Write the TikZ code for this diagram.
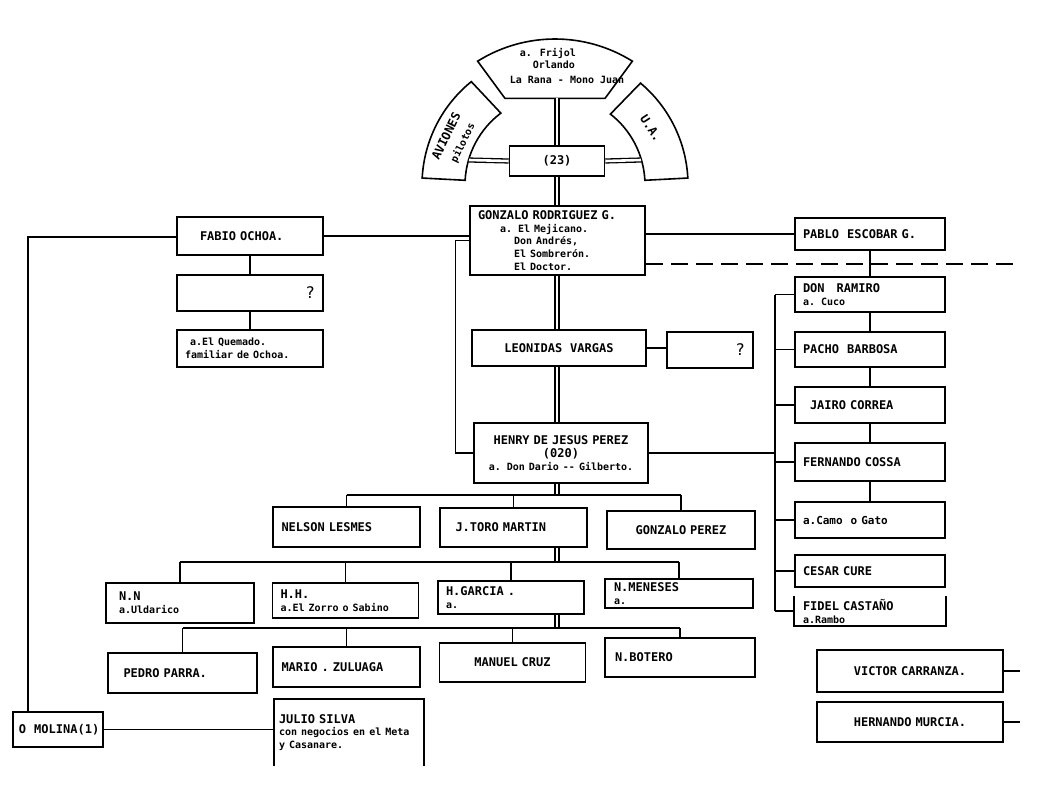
\documentclass[tikz,border=0pt]{standalone}
\usepackage{fontspec}
\newfontfamily\maq{DejaVu Sans Mono}
\usetikzlibrary{calc}
\newcommand\chico{\fontsize{10}{12.5}\selectfont}

\begin{document}
\begin{tikzpicture}[x=1pt,y=-1pt,line width=1.3pt,
  caja/.style={draw,line width=1.6pt,minimum width=146pt,minimum height=37pt,text width=130pt,
    inner xsep=8pt,inner ysep=2pt,align=left,font=\maq\bfseries\fontsize{12}{13}\selectfont},
  doble/.style={double,double distance=2.6pt,line width=1.3pt},
  pieza/.style={draw,line width=1.6pt},
  letra/.style={font=\maq\bfseries\fontsize{12}{13}\selectfont}]
  \fill[white] (0,0) rectangle (1058,793);
  \useasboundingbox (0,0) rectangle (1058,793);
  % cabeza: arcos de arriba
  \coordinate (C) at (555,185);
  \draw[pieza] ($(C)+(238:146)$) arc[start angle=238,end angle=302,radius=146]
    -- ($(C)+(300:100)$) -- ($(C)+(240:100)$) -- cycle;
  \draw[pieza] ($(C)+(183:133)$) arc[start angle=183,end angle=231,radius=133]
    -- ($(C)+(233:90)$) arc[start angle=233,end angle=183,radius=90] -- cycle;
  \draw[pieza] ($(C)+(357:133)$) arc[start angle=357,end angle=310,radius=133]
    -- ($(C)+(308:90)$) arc[start angle=308,end angle=357,radius=90] -- cycle;
  \node[letra,align=left,font=\maq\bfseries\chico] (alias) at (567,66)
    {\hspace*{10pt}a. Frijol\\\hspace*{23pt}Orlando\\[2pt]La Rana - Mono Juan};
  \node[letra,rotate=64] (aviones) at (446,136) {AVIONES};
  \node[letra,rotate=64,font=\maq\bfseries\chico] (pilotos) at (463,143) {pilotos};
  \node[letra,rotate=-57] (ua) at (651,128) {U.A.};
  \coordinate (arriba) at (557,98);
  \coordinate (ai) at (469,160); \coordinate (ad) at (641,160);
  % columna central
  \node[caja,minimum width=95pt,text width=79pt,minimum height=30pt,align=center] (t23) at (557,161) {(23)};
  \node[caja,minimum width=175pt,text width=159pt,minimum height=69pt] (gonzalo) at (557.5,240.5)
    {GONZALO RODRIGUEZ G.\\\chico\hspace*{22pt}a. El Mejicano.\\\hspace*{36pt}Don Andrés,\\\hspace*{36pt}El Sombrerón.\\\hspace*{36pt}El Doctor.};
  \node[caja,minimum width=174pt,text width=158pt,minimum height=36pt,align=center] (lecnidas) at (559,348) {LEONIDAS~ VARGAS};
  \node[caja,minimum width=86pt,text width=70pt,minimum height=36pt,align=right,font=\maq\fontsize{16}{16}\selectfont] (q2) at (710,350) {?};
  \node[caja,minimum width=174pt,text width=158pt,minimum height=60pt,align=center] (henry) at (561,453)
    {HENRY DE JESUS PEREZ\\(020)\\\chico a. Don Dario -{}- Gilberto.};
  % lado izquierdo
  \node[caja,minimum height=38pt] (fabio) at (250,236) {\hspace*{15pt}FABIO OCHOA.};
  \node[caja,minimum height=36pt,align=right,font=\maq\fontsize{16}{16}\selectfont] (q1) at (250,293) {?};
  \node[caja] (quemado) at (250,348.5) {\chico\hspace*{5pt}a.El Quemado.\\familiar de Ochoa.};
  \node[caja,minimum width=90pt,text width=78pt,minimum height=35pt,inner xsep=6pt] (molina) at (58,729.5) {O~ MOLINA(1)};
  % columna derecha
  \node[caja,minimum width=150pt,text width=134pt,minimum height=32pt] (pablo) at (870,234) {PABLO~ ESCOBAR G.};
  \node[caja,minimum width=150pt,text width=134pt,minimum height=35pt] (ramiro) at (870,294.5) {DON~~ RAMIRO\\\chico a. Cuco};
  \node[caja,minimum width=150pt,text width=134pt,minimum height=35pt] (pacho) at (870,349.5) {PACHO~ BARBOSA};
  \node[caja,minimum width=150pt,text width=134pt,minimum height=36pt] (jairo) at (870,405) {\hspace*{7pt}JAIRO CORREA};
  \node[caja,minimum width=150pt,text width=134pt,minimum height=38pt] (fernando) at (870,462) {FERNANDO COSSA};
  \node[caja,minimum width=150pt,text width=134pt,minimum height=36pt] (camo) at (870,520) {\fontsize{11}{12}\selectfont a.Camo~ o Gato};
  \node[caja,minimum width=150pt,text width=134pt,minimum height=32pt] (cesar) at (870,571) {CESAR CURE};
  \node[caja,draw=none,minimum width=150pt,text width=134pt,minimum height=26pt] (fidel) at (870,611) {FIDEL CASTAÑO\\\chico a.Rambo};
  \draw[line width=1.6pt] (fidel.north west) -- (fidel.south west) -- (fidel.south east) -- (fidel.north east);
  \node[caja,minimum width=186pt,text width=170pt,minimum height=42pt,align=center] (victor) at (910,671) {VICTOR CARRANZA.};
  \node[caja,minimum width=186pt,text width=170pt,minimum height=40pt,align=center] (hernando) at (910,722) {HERNANDO MURCIA.};
  % filas de abajo
  \node[caja,minimum width=147pt,minimum height=40pt] (nelson) at (346.5,527) {NELSON LESMES};
  \node[caja,minimum width=147pt,minimum height=39pt] (jtoro) at (513.5,527.5) {\hspace*{7pt}J.TORO MARTIN};
  \node[caja,minimum width=148pt,minimum height=38pt,align=center] (gperez) at (681,530) {GONZALO PEREZ};
  \node[caja,minimum width=148pt,minimum height=40pt] (nn) at (180,603) {\hspace*{4pt}N.N\\\chico\hspace*{4pt}a.Uldarico};
  \node[caja,minimum width=145pt,minimum height=35pt] (hh) at (345.5,600.5) {H.H.\\\chico a.El Zorro o Sabino};
  \node[caja,minimum width=146pt,minimum height=33pt] (hgarcia) at (511,597.5) {H.GARCIA .\\\chico a.};
  \node[caja,minimum width=148pt,minimum height=29pt] (menoses) at (679,593.5) {N.MENESES\\\chico a.};
  \node[caja,minimum width=149pt,minimum height=40pt] (pedro) at (182.5,673) {\hspace*{6pt}PEDRO PARRA.};
  \node[caja,minimum width=147pt,minimum height=40pt] (mario) at (346.5,667) {MARIO . ZULUAGA};
  \node[caja,minimum width=145pt,minimum height=39pt,align=center] (manuel) at (512.5,662.5) {MANUEL CRUZ};
  \node[caja,minimum width=150pt,minimum height=39pt] (botero) at (680,657.5) {N.BOTERO};
  \node[caja,draw=none,minimum width=148pt,text width=140pt,inner xsep=4pt,minimum height=65pt] (julio) at (349,732.5)
    {JULIO SILVA\\\chico con negocios en el Meta\\y Casanare.};
  \draw[line width=1.6pt] (julio.south west) -- (julio.north west) -- (julio.north east) -- (julio.south east);
  % lineas dobles del eje
  \draw[doble] (arriba) -- (t23.north -| arriba);
  \draw[doble] (t23.west) -- (ai);
  \draw[doble] (t23.east) -- (ad);
  \draw[doble] (t23.south -| arriba) -- (gonzalo.north -| arriba);
  \draw[doble] (gonzalo.south -| arriba) -- (lecnidas.north -| arriba);
  \draw[doble] (lecnidas.south -| arriba) -- (henry.north -| arriba);
  \coordinate (b1) at (0,495); \coordinate (b2) at (0,562); \coordinate (b3) at (0,628);
  \draw[doble] (henry.south -| arriba) -- (b1 -| arriba);
  \draw[doble] (jtoro.south -| arriba) -- (b2 -| arriba);
  \draw[doble] (hgarcia.south -| arriba) -- (b3 -| arriba);
  % barras de las filas
  \draw (nelson.north |- b1) -- (gperez.north |- b1);
  \foreach \n in {nelson,jtoro,gperez} \draw (\n.north) -- (\n.north |- b1);
  \draw (nn.north |- b2) -- (menoses.north |- b2);
  \foreach \n in {nn,hh,hgarcia,menoses} \draw (\n.north) -- (\n.north |- b2);
  \draw (pedro.north |- b3) -- (botero.north |- b3);
  \foreach \n in {pedro,mario,manuel,botero} \draw (\n.north) -- (\n.north |- b3);
  % conexiones izquierda
  \coordinate (m1) at (28,237);
  \draw (molina.north -| m1) -- (m1) -- (m1 -| fabio.west);
  \draw (fabio.east) -- (fabio.east -| gonzalo.west);
  \draw (fabio.south) -- (q1.north);
  \draw (q1.south) -- (quemado.north);
  \draw (gonzalo.west) -- ++(-14,0) |- (henry.west);
  \draw (molina.east) -- (molina.east -| julio.west);
  \draw (lecnidas.east) -- (lecnidas.east -| q2.west);
  % conexiones derecha
  \draw (pablo.west -| gonzalo.east) -- (pablo.west);
  \coordinate (fin) at (1017,264);
  \draw[dash pattern=on 17pt off 8pt] (gonzalo.east |- fin) -- (fin);
  \draw (pablo.south) -- (ramiro.north);
  \draw (ramiro.south) -- (pacho.north);
  \draw (pacho.south) -- (jairo.north);
  \draw (jairo.south) -- (fernando.north);
  \draw (fernando.south) -- (camo.north);
  \coordinate (d1) at (775,0);
  \draw (ramiro.west -| d1) -- (fidel.west -| d1);
  \foreach \n in {ramiro,pacho,jairo,fernando,camo,cesar,fidel} \draw (\n.west) -- (\n.west -| d1);
  \draw (henry.east) -- (henry.east -| d1);
  \draw (victor.east) -- ++(16,0);
  \draw (hernando.east) -- ++(16,0);
\end{tikzpicture}
\end{document}
